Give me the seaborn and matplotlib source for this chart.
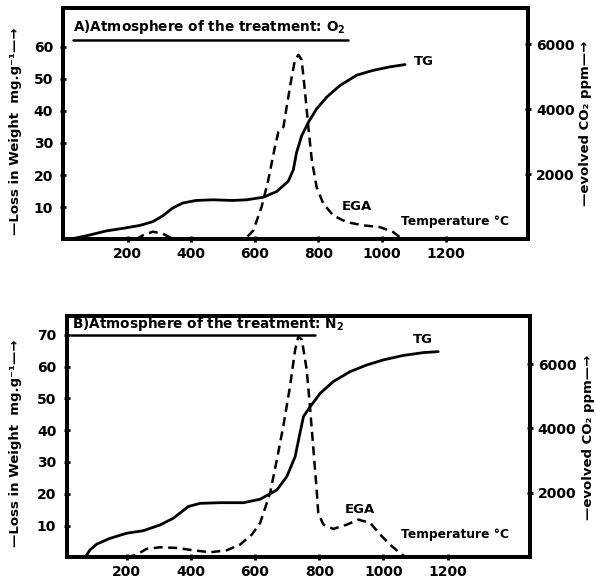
import pandas as pd
import seaborn as sns
import matplotlib.pyplot as plt

# --- panel A: atmosphere of the treatment O2 ---
a_tg_temp = [5, 27, 79, 132, 184, 237, 279, 310, 341, 373, 415, 467, 530, 574, 626, 669, 705, 721,
             731, 747, 768, 794, 826, 868, 920, 972, 1025, 1072]
a_tg_loss = [0.0, 0.2, 1.3, 2.6, 3.4, 4.3, 5.5, 7.3, 9.7, 11.3, 12.1, 12.3, 12.1, 12.3, 13.1, 14.9, 18.1, 21.7,
             27.0, 32.2, 36.4, 40.6, 44.3, 47.9, 51.1, 52.6, 53.7, 54.4]
a_ega_temp = [226, 247, 279, 310, 341, 373, 569, 595, 621, 642, 663, 674, 690, 700, 716, 726, 737, 747,
              757, 768, 779, 794, 815, 846, 888, 941, 993, 1035, 1062]
a_ega_ppm = [0, 120, 234, 173, 18, 0, 0, 274, 993, 1816, 2843, 3306, 3460, 4077, 5002, 5516, 5671, 5516,
             4591, 3460, 2433, 1610, 1098, 737, 530, 429, 376, 222, 18]

# --- panel B: atmosphere of the treatment N2 ---
b_tg_temp = [70, 86, 107, 148, 200, 252, 304, 345, 372, 392, 429, 491, 564, 616, 668, 699, 725, 740, 751,
             772, 803, 844, 896, 948, 1000, 1062, 1125, 1171]
b_tg_loss = [0.0, 2.4, 4.2, 6.0, 7.6, 8.4, 10.2, 12.3, 14.4, 16.0, 17.0, 17.2, 17.2, 18.3, 21.2, 25.4, 31.7,
             39.1, 44.3, 47.4, 51.6, 55.3, 58.4, 60.5, 62.1, 63.5, 64.4, 64.7]
b_ega_temp = [200, 231, 262, 304, 356, 408, 460, 512, 553, 590, 616, 647, 668, 688, 709, 725, 735, 746,
              761, 772, 782, 792, 797, 813, 844, 886, 922, 959, 990, 1021, 1057, 1073]
b_ega_ppm = [0, 87, 264, 314, 294, 221, 159, 221, 397, 707, 1070, 2000, 3033, 4066, 5306, 6443, 6856, 6753,
             5823, 4583, 3343, 2102, 1380, 1017, 884, 1017, 1172, 1070, 707, 397, 87, 0]

x_ticks = [200, 400, 600, 800, 1000, 1200]
a_left_ticks = [10, 20, 30, 40, 50, 60]
b_left_ticks = [10, 20, 30, 40, 50, 60, 70]
right_ticks = [2000, 4000, 6000]

sns.set_style("ticks")
plt.rcParams['font.family'] = ['DejaVu Sans']
plt.rcParams['font.weight'] = 'bold'
plt.rcParams['text.color'] = 'black'
plt.rcParams['xtick.color'] = 'black'
plt.rcParams['ytick.color'] = 'black'

fig = plt.figure(figsize=(5.96, 5.83), dpi=100)


def draw_panel(rect, tg_t, tg_l, ega_t, ega_p, xlim, ylim, y2lim, yticks,
               title, title_xy, line_x1, line_y, tg_xy, ega_xy, temp_xy):
    ax = fig.add_axes(rect)
    ax2 = ax.twinx()
    df_tg = pd.DataFrame({"temp": tg_t, "loss": tg_l})
    df_ega = pd.DataFrame({"temp": ega_t, "ppm": ega_p})
    sns.lineplot(data=df_tg, x="temp", y="loss", ax=ax, color="black", lw=2.0, sort=False)
    sns.lineplot(data=df_ega, x="temp", y="ppm", ax=ax2, color="black", lw=1.8,
                 linestyle=(0, (3.6, 2.2)), sort=False)
    ax.set_xlim(*xlim)
    ax.set_ylim(*ylim)
    ax2.set_ylim(*y2lim)
    ax.set_xticks(x_ticks)
    ax.set_yticks(yticks)
    ax2.set_yticks(right_ticks)
    ax.set_xlabel("")
    ax.set_ylabel("")
    ax2.set_ylabel("")
    for a in (ax, ax2):
        for s in a.spines.values():
            s.set_linewidth(2.8)
            s.set_color("black")
            s.set_visible(True)
        a.tick_params(direction="inout", length=5, width=2, labelsize=10, colors="black")
    ax.tick_params(axis="y", pad=5)
    ax.tick_params(axis="x", pad=3)
    ax2.tick_params(axis="y", pad=3)

    ax.text(title_xy[0], title_xy[1], title, fontsize=9.8, fontweight="bold", va="bottom")
    ax.plot([title_xy[0] - 2, line_x1], [line_y, line_y], color="black", lw=1.8)
    ax.text(tg_xy[0], tg_xy[1], "TG", fontsize=9.5, fontweight="bold", va="center")
    ax.text(ega_xy[0], ega_xy[1], "EGA", fontsize=9.5, fontweight="bold", va="center")
    ax.text(temp_xy[0], temp_xy[1], "Temperature °C", fontsize=8.8, fontweight="bold", va="center")
    return ax, ax2


draw_panel([0.1065, 0.5895, 0.780, 0.3967], a_tg_temp, a_tg_loss, a_ega_temp, a_ega_ppm,
           (-2, 1460), (0, 72), (0, 7110), a_left_ticks,
           "A)Atmosphere of the treatment: O$_2$", (29, 63.2), 892, 62.2,
           (1100, 55.3), (873, 10.2), (1060, 5.5))

draw_panel([0.1119, 0.0439, 0.7774, 0.4146], b_tg_temp, b_tg_loss, b_ega_temp, b_ega_ppm,
           (13, 1457), (0, 76), (0, 7500), b_left_ticks,
           "B)Atmosphere of the treatment: N$_2$", (29, 70.6), 787, 69.8,
           (1093, 68.4), (880, 15.2), (1055, 7.1))

# vertical axis labels with arrows
left_label = "—Loss in Weight  mg.g⁻¹—→"
right_label = "—evolved CO₂ ppm—→"
fig.text(0.026, 0.775, left_label, rotation=90, fontsize=9.5, fontweight="bold", ha="center", va="center")
fig.text(0.026, 0.239, left_label, rotation=90, fontsize=9.5, fontweight="bold", ha="center", va="center")
fig.text(0.983, 0.788, right_label, rotation=90, fontsize=9.5, fontweight="bold", ha="center", va="center")
fig.text(0.987, 0.249, right_label, rotation=90, fontsize=9.5, fontweight="bold", ha="center", va="center")

plt.savefig("out.png", dpi=100)
